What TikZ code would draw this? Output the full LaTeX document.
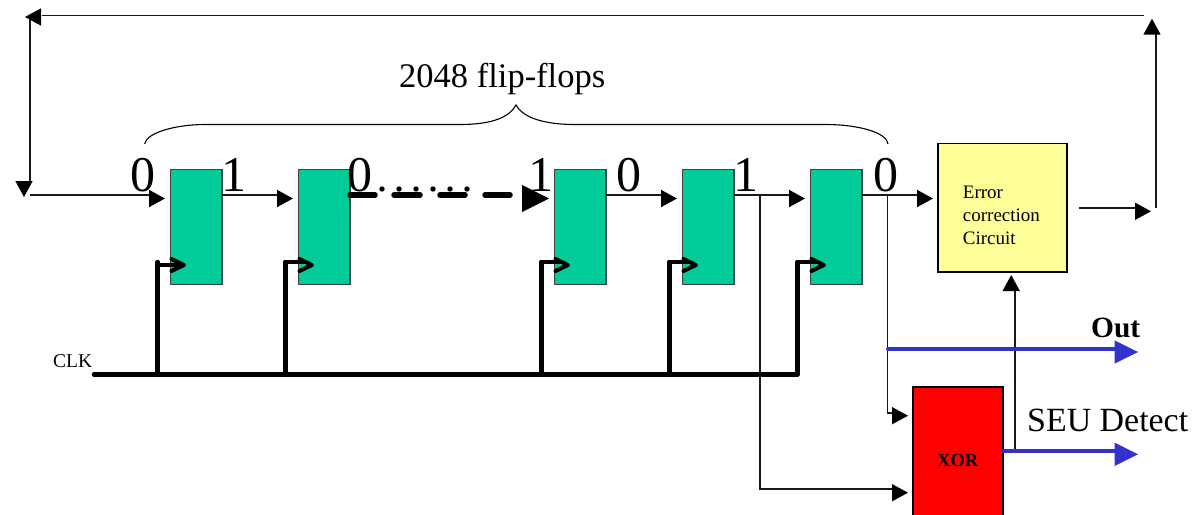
\documentclass[tikz,border=0pt]{standalone}
\usepackage{fontspec}
\usetikzlibrary{calc}
\setmainfont{Liberation Serif}
\definecolor{ffgreen}{HTML}{00CC99}
\definecolor{seublue}{HTML}{3333CC}
\definecolor{ecyellow}{HTML}{FFFF99}
\tikzset{
  ff/.style={draw=black!75,line width=1.3pt,fill=ffgreen,minimum width=51.5pt,minimum height=115.5pt,inner sep=0pt,outer sep=0pt},
  wire/.style={draw=black!90,line width=1.7pt},
  clkwire/.style={draw=black,line width=4.5pt,line cap=round},
  bluewire/.style={draw=seublue,line width=4pt,line cap=round},
  dig/.style={anchor=base,inner sep=0pt,font=\fontsize{50}{50}\selectfont},
  lab/.style={anchor=base west,inner sep=0pt,align=left},
  ahead/.pic={\fill[pic actions] (0,0) -- (-16pt,-8.7pt) -- (-16pt,8.7pt) -- cycle;},
  bhead/.pic={\fill[pic actions] (0,0) -- (-23.5pt,-11.7pt) -- (-23.5pt,11.7pt) -- cycle;},
}
\begin{document}
\begin{tikzpicture}[x=1pt,y=-1pt]
\useasboundingbox (0,0) rectangle (1193,514);
\clip (0,0) rectangle (1193,514);
% flip-flops
\node[ff] (f1) at (196.2,227) {};
\node[ff] (f2) at (324.2,227) {};
\node[ff] (f3) at (580.2,227) {};
\node[ff] (f4) at (708.2,227) {};
\node[ff] (f5) at (836.2,227) {};
\node[draw=black,line width=1.3pt,fill=ecyellow,minimum width=129pt,minimum height=128.5pt,inner sep=0pt,outer sep=0pt] (ec) at (1002.5,207.8) {};
\node[draw=black,line width=1.3pt,fill=red,minimum width=90pt,minimum height=140pt,inner sep=0pt,outer sep=0pt,anchor=north west] (xr) at (913,387) {};
% coordinates
\coordinate (fbA) at (1144,15.5);
\coordinate (fbB) at (30,15.5);
\coordinate (fbC) at (42,15.5);
\coordinate (fbD) at (30,182);
\coordinate (inS) at (29.5,195);
\coordinate (inE) at (150,195);
\coordinate (outS) at (1079,207.7);
\coordinate (outE) at (1136,207.7);
\coordinate (rtB) at (1156.3,208);
\coordinate (rtT) at (1156.3,33);
\coordinate (bus0) at (94,374.5);
\coordinate (bus1) at (797,374.5);
\coordinate (br1) at (760,195);
\coordinate (br1b) at (760,489);
\coordinate (br1e) at (893,489);
\coordinate (br2) at (887.5,195);
\coordinate (br2b) at (887.5,413);
\coordinate (br2e) at (893,413);
\coordinate (outb0) at (888,348.5);
\coordinate (outb1) at (1116,348.5);
\coordinate (seub0) at (1003,450.7);
\coordinate (seub1) at (1116,450.7);
\coordinate (upS) at (1015.3,451);
\coordinate (upE) at (1015.3,290);
% wires
\draw[wire] (inS) -- (inE);
\draw[wire] (fbA) -- (fbC);
\draw[wire] (fbB) -- (fbD);
\draw[wire] ([yshift=32pt]f1.east) -- +(57,0);
\draw[wire] ([yshift=32pt]f3.east) -- +(57,0);
\draw[wire] ([yshift=32pt]f4.east) -- +(57,0);
\draw[wire] ([yshift=32pt]f5.east) -- +(57,0);
\draw[wire] (br1) -- (br1b) -- (br1e);
\draw[wire] (br2) -- (br2b) -- (br2e);
\draw[wire] (upS) -- (upE);
\draw[wire] (outS) -- (outE);
\draw[wire] (rtB) -- (rtT);
% arrowheads
\pic[fill=black,rotate=180] at (25,17) {ahead};
\pic[fill=black,rotate=-90] at (24,197) {ahead};
\pic[fill=black] at (165,198.5) {ahead};
\pic[fill=black] at (293,198.5) {ahead};
\pic[fill=black] at (677,198.5) {ahead};
\pic[fill=black] at (805,198.5) {ahead};
\pic[fill=black] at (933,198.5) {ahead};
\pic[fill=black] at (908,415.7) {ahead};
\pic[fill=black] at (908,492.7) {ahead};
\pic[fill=black] at (1151,211.3) {ahead};
\pic[fill=black,rotate=90] at (1011.2,275) {ahead};
\pic[fill=black,rotate=90] at (1152,18.7) {ahead};
% clock
\draw[clkwire] (bus0) -- (bus1);
\foreach \x/\hy/\n in {157.7/264.5/f1,285.5/261.5/f2,541.5/261.5/f3,669.5/261.5/f4,797.7/261.5/f5}{
  \draw[clkwire] (\x,374.5) -- (\x,262);
  \draw[draw=black,line width=4pt,line cap=round] (\x,\hy) -- ($(\x,\hy)+(20,0)$);
  \draw[draw=black,line width=4pt,line cap=round,line join=round] ($(\n.west)+(1,32)$) -- ($(\n.west)+(13.5,38)$) -- ($(\n.west)+(1,44)$);
}
% digits
\foreach \xx/\t/\m in {143/0/d1,233.5/1/d2,360/0/d3,540.5/1/d4,629/0/d5,745.5/1/d6,886/0/d7}{
  \node[dig] (\m) at (\xx,191.5) {\t};
}
% dotted thick arrow
\foreach \a/\b in {350/375,394/420,440/465,485/510}{
  \draw[black,line width=5.5pt,line cap=round] (\a,195) -- (\b,195);
}
\foreach \a in {382,399,416,433,450,467}{
  \fill[black] (\a,189) circle (2.7pt);
}
\fill[black] (522,185) -- (549,198.5) -- (522,212) -- cycle;
% blue
\draw[bluewire] (outb0) -- (outb1);
\draw[bluewire] (seub0) -- (seub1);
\pic[fill=seublue] at (1138,352) {bhead};
\pic[fill=seublue] at (1138,454.3) {bhead};
% brace
\draw[line width=1.1pt,black] (144.7,144) .. controls (146,133) and (175,124.5) .. (205,124.5) -- (460,124.5) .. controls (495,124.5) and (510,116) .. (516,105) .. controls (522,116) and (540,124.5) .. (575,124.5) -- (825,124.5) .. controls (860,124.5) and (887,133) .. (888,144);
% labels
\node[lab,font=\fontsize{34.5}{34.5}\selectfont] (t2048) at (399,87) {2048 flip-flops};
\node[lab,font=\fontsize{19.5}{19.5}\selectfont] (tclk) at (53,367) {CLK};
\node[lab,font=\fontsize{29.4}{29.4}\selectfont\bfseries] (tout) at (1091,337) {Out};
\node[lab,font=\fontsize{33.9}{33.9}\selectfont] (tseu) at (1027,431) {SEU Detect};
\node[lab,font=\fontsize{19}{19}\selectfont] (te1) at (962.7,198) {Error};
\node[lab,font=\fontsize{19}{19}\selectfont] (te2) at (962.7,221.7) {correction};
\node[lab,font=\fontsize{19}{19}\selectfont] (te3) at (962.7,244) {Circuit};
\node[lab,font=\fontsize{18.5}{18.5}\selectfont\bfseries] (txor) at (937,466.7) {XOR};
\end{tikzpicture}
\end{document}
